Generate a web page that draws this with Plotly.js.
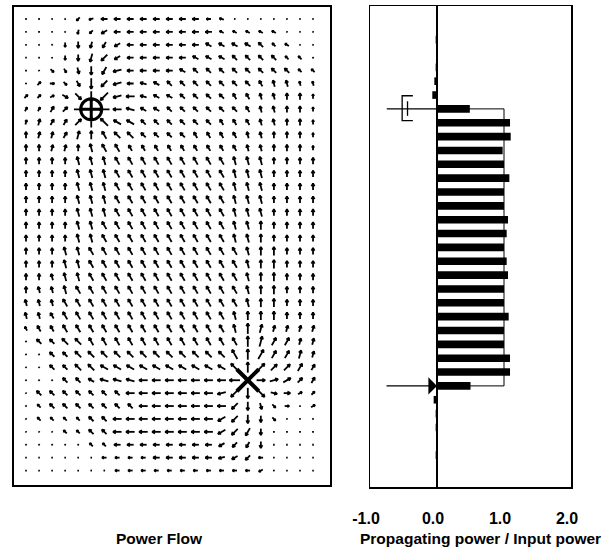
<!DOCTYPE html>
<html><head><meta charset="utf-8">
<script src="https://cdn.plot.ly/plotly-3.0.1.min.js"></script>
<style>html,body{margin:0;padding:0;background:#fff}#chart{width:608px;height:554px}</style>
</head><body><div id="chart"></div>
<script>
// ---------- DATA ----------
// Power-flow field: 36 rows x 23 columns. Direction code a..x = 0..345 deg in 15 deg steps
// (a = pointing right, g = up, m = left, s = down). Magnitude code 0..5 (arrow length class).
const flowDirRows = [
  "mmnop nmmmm mmmmm lllll lll",
  "msmqr pommm mmmmm kkkkk kkk",
  "mnpss rqomm mmmmk kkkjj kkk",
  "mksss rpomm mmmkk kjjjj jjj",
  "suvut sqnmm mmkjj jjjjj jjj",
  "ddavu spnml kjjjj jjjih hhh",
  "ddcwv spnml kkjjj jiihh ggg",
  "eeeda ammlk kjjjj jjihh ggg",
  "ffeed gjkkj jjjjj iiihh ggg",
  "gffef gijjj jjjii iihhg ggg",
  "ggffg hiiii iiiii iihhg ggg",
  "ggggh hhiii iiiii ihhhg ggg",
  "ggggh hhiii iiiii ihhhg ggg",
  "ggggh hhiii iiiii ihhhg ggg",
  "ggggh hhiii iiiii ihhhg ggg",
  "ggggh hhiii iiiii ihhhg ggg",
  "ggggh hiiii iiiii ihhgg ggg",
  "ggggh hiiii iiiii ihhgg ggg",
  "ggghh iiiii iiiii iihgg ggg",
  "ggghh iiiii iiiii iihgg ggg",
  "gghhh iiiii iiiii iihgg ggg",
  "ghhhi iiiii iiiii iihgg ggg",
  "hhhii iiiii iiiii iihgg ggg",
  "hhiii iiiii iiiii ihggg ggg",
  "iiiii iiiii iiiii ihgff fff",
  "jjjjj iiiii iiiii iigfe eff",
  "jjjjj jjjjj jjjjj jigee eff",
  "jjjjj jkkkk kkkkk kjgdd dee",
  "jjjjj klllm mmmmm mmaab cde",
  "jjjjj jjjmm mmmmm npsvx acd",
  "jjjjj jjjjm mmmmm mpstv aac",
  "jjjjj jjmmm mmmmm opssv aac",
  "jjjjj jjmmm mmmmm opqss sss",
  "jjjjj jjmmm mmmmm opqsm mmm",
  "mmmmm mmmmm mmmmm nopmm mmm",
  "mmmmm mmmmm mmmmm mmmoo mmm"
];
const flowMagRows = [
  "11112 23333 33332 21111 111",
  "11112 23333 33333 22222 111",
  "11123 33333 33333 33332 211",
  "11123 44333 33333 33333 221",
  "11223 44433 33333 33333 322",
  "12223 54433 33333 33333 322",
  "22234 55443 33333 33333 332",
  "22334 05443 33333 33333 332",
  "23334 55443 33333 33333 332",
  "33334 44443 33333 33333 332",
  "33333 44433 33333 33333 332",
  "33334 44444 44444 44443 333",
  "33334 44444 44444 44443 333",
  "33334 44444 44444 44443 333",
  "33334 44444 44444 44443 333",
  "33334 44444 44444 44443 333",
  "33334 44444 44444 44443 333",
  "33334 44444 44444 44443 333",
  "33344 44444 44444 44444 333",
  "33344 44444 44444 44444 333",
  "33344 44444 44444 44444 333",
  "33344 44444 44444 44444 333",
  "33344 44444 44444 44444 333",
  "33344 44444 44444 44444 333",
  "23344 44444 44444 44543 333",
  "13344 44444 44444 44554 433",
  "11334 44444 44444 45554 443",
  "11334 44444 44444 45554 443",
  "11133 34444 44444 45044 433",
  "13333 33344 44444 45553 322",
  "12333 33334 44444 44432 212",
  "12222 33444 44444 44432 111",
  "11122 33444 44444 44431 111",
  "11111 22333 33333 33331 111",
  "11111 12222 33333 33321 111",
  "11111 11222 22222 22221 111"
];
const sinkCell = {col: 5, row: 7};      // receiving point (circle)
const sourceCell = {col: 17, row: 28};  // excitation point (X)

// Propagating power / input power, one value per horizontal cut (35 cuts, top to bottom)
const cutRows = [0,1,2,3,4,5,6,7,8,9,10,11,12,13,14,15,16,17,18,19,20,21,22,23,24,25,26,27,28,29,30,31,32,33,34];
const powerRatio = [0, 0, -0.02, 0, -0.02, -0.04, -0.07,
  0.49, 1.09, 1.10, 0.98, 1.00, 1.08, 1.00, 1.00, 1.06, 1.04, 1.00, 1.04, 1.06,
  1.00, 1.00, 1.07, 1.00, 1.00, 1.09, 1.09, 0.50,
  -0.05, -0.02, -0.02, 0, -0.02, 0, 0];
const sinkCut = 7, sourceCut = 27;
const balanceLevel = 1.0;
const tickValues = [-1, 0, 1, 2];
const tickLabels = ["-1.0", "0.0", "1.0", "2.0"];
const leftTitle = "Power Flow";
const rightTitle = "Propagating power / Input power";

// ---------- LAYOUT GEOMETRY ----------
const W = 608, H = 554;
const xDomL = [14/W, 330/W], xRangeL = [-0.92, 23.3];
const yDomL = [1 - 485/H, 1 - 6.5/H], yRangeL = [36.12, -0.97];
const xDomR = [370/W, 571/W], xRangeR = [-1, 2];
const yDomR = [1 - 487/H, 1 - 6/H], yRangeR = [34.3, -0.43];

const pxX = W*(xDomL[1]-xDomL[0])/(xRangeL[1]-xRangeL[0]);
const pxY = H*(yDomL[1]-yDomL[0])/Math.abs(yRangeL[1]-yRangeL[0]);

// build arrows
const ax = [], ay = [];
flowDirRows.forEach((dRow, r) => {
  const d = dRow.replace(/ /g, ""), m = flowMagRows[r].replace(/ /g, "");
  for (let c = 0; c < d.length; c++) {
    const mag = +m[c];
    if (!mag) continue;
    const th = (d.charCodeAt(c) - 97) * 15 * Math.PI / 180;
    const L = mag === 1 ? 1.6 : mag * 2 + 0.5;
    const ux = Math.cos(th), uy = -Math.sin(th);
    const tx = c - ux*L/2/pxX, ty = r - uy*L/2/pxY;
    const hx = c + ux*L/2/pxX, hy = r + uy*L/2/pxY;
    ax.push(tx, hx, null); ay.push(ty, hy, null);
    if (mag >= 2) {
      const h = Math.min(3.2, 0.5*L);
      const w = [];
      [0.5, -0.5].forEach(s => {
        const a = th + Math.PI + s;
        w.push([hx + Math.cos(a)*h/pxX, hy - Math.sin(a)*h/pxY]);
      });
      ax.push(w[0][0], hx, w[1][0], null); ay.push(w[0][1], hy, w[1][1], null);
    }
  }
});

const font = {family: "Liberation Sans, Arial, sans-serif", color: "#000"};

const traces = [
  {type: "scatter", mode: "lines", x: ax, y: ay, xaxis: "x", yaxis: "y",
   line: {color: "#000", width: 1.8}, hoverinfo: "skip", showlegend: false},
  {type: "scatter", mode: "markers", x: [sinkCell.col], y: [sinkCell.row], xaxis: "x", yaxis: "y",
   marker: {symbol: "circle-cross-open", size: 21, color: "#000", line: {color: "#000", width: 3}},
   showlegend: false, hoverinfo: "skip"},
  {type: "scatter", mode: "markers", x: [sourceCell.col], y: [sourceCell.row], xaxis: "x", yaxis: "y",
   marker: {symbol: "x-thin-open", size: 22, color: "#000", line: {color: "#000", width: 4}},
   showlegend: false, hoverinfo: "skip"},
  {type: "bar", orientation: "h", x: powerRatio, y: cutRows, xaxis: "x2", yaxis: "y2",
   width: 0.55, marker: {color: "#000", line: {width: 0}}, showlegend: false, hoverinfo: "skip"},
  {type: "scatter", mode: "lines", xaxis: "x2", yaxis: "y2",
   x: [0, balanceLevel, balanceLevel, 0], y: [sinkCut, sinkCut, sourceCut, sourceCut],
   line: {color: "#000", width: 1}, showlegend: false, hoverinfo: "skip"},
  // receiving-point symbol on the right panel
  {type: "scatter", mode: "lines", xaxis: "x2", yaxis: "y2",
   x: [-0.75, 0, null, -0.36, -0.52, -0.52, -0.36, null, -0.44, -0.44],
   y: [sinkCut, sinkCut, null, sinkCut-0.95, sinkCut-0.95, sinkCut+0.85, sinkCut+0.85, null, sinkCut-0.55, sinkCut+0.5],
   line: {color: "#000", width: 1.3}, showlegend: false, hoverinfo: "skip"}
];

const layout = {
  width: W, height: H, margin: {l: 0, r: 0, t: 0, b: 0},
  paper_bgcolor: "#fff", plot_bgcolor: "#fff", showlegend: false,
  xaxis: {domain: xDomL, range: xRangeL, showline: true, mirror: true, linecolor: "#000", linewidth: 2,
          showgrid: false, zeroline: false, showticklabels: false, ticks: ""},
  yaxis: {domain: yDomL, range: yRangeL, showline: true, mirror: true, linecolor: "#000", linewidth: 2,
          showgrid: false, zeroline: false, showticklabels: false, ticks: ""},
  xaxis2: {domain: xDomR, range: xRangeR, anchor: "y2", showline: true, mirror: true, linecolor: "#000", linewidth: 1.5,
           showgrid: false, zeroline: true, zerolinecolor: "#000", zerolinewidth: 1.5,
           tickmode: "array", tickvals: tickValues, ticktext: tickLabels, ticks: "",
           ticklabelstandoff: 16, ticklabelshift: -4,
           tickfont: Object.assign({size: 16, weight: "bold"}, font)},
  yaxis2: {domain: yDomR, range: yRangeR, anchor: "x2", showline: true, mirror: true, linecolor: "#000", linewidth: 1.5,
           showgrid: false, zeroline: false, showticklabels: false, ticks: ""},
  annotations: [
    {xref: "paper", yref: "paper", x: 159/W, y: 1 - 538/H, text: leftTitle, showarrow: false,
     xanchor: "center", yanchor: "middle", font: Object.assign({size: 15.5, weight: "bold"}, font)},
    {xref: "paper", yref: "paper", x: 480/W, y: 1 - 538/H, text: rightTitle, showarrow: false,
     xanchor: "center", yanchor: "middle", font: Object.assign({size: 15.5, weight: "bold"}, font)},
    {xref: "x2", yref: "y2", x: 0, y: sourceCut, text: "", showarrow: true, ax: -52, ay: 0,
     arrowhead: 1, arrowsize: 2.4, arrowwidth: 1.2, arrowcolor: "#000", standoff: 0}
  ]
};

Plotly.newPlot("chart", traces, layout, {staticPlot: true, displayModeBar: false});
</script>
</body></html>
